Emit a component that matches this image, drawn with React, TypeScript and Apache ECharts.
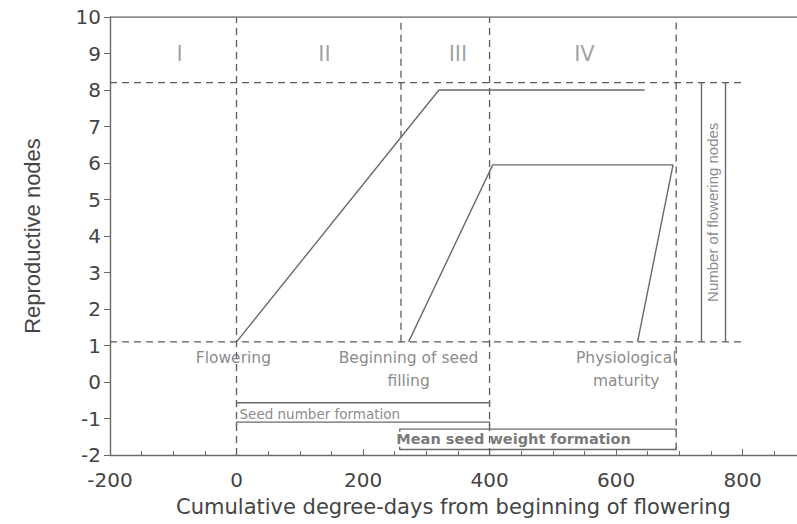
import React, { useEffect, useRef } from "react";
import * as echarts from "echarts";

// ---- data ----
const xMin = -200;
const xMax = 886;
const yMin = -2;
const yMax = 10;

// total reproductive (flowering) nodes
const totalNodesX = [0, 320, 645];
const totalNodesY = [1.1, 8.0, 8.0];

// nodes with filling seeds
const fillNodesX = [272, 405, 690, 634];
const fillNodesY = [1.1, 5.95, 5.95, 1.1];

// reference (dashed) levels
const levelLow = 1.1;
const levelHigh = 8.2;
const levelEndX = 800;

// stage boundaries (x) and their lower ends (y)
const stageX = [0, 260, 400, 695];
const stageBottomY = [-2, 1.1, -2, -1.85];

// phase labels
const phaseNames = ["I", "II", "III", "IV"];
const phaseX = [-90, 139, 350, 550];
const phaseY = 9.0;

// event labels
const eventLines = ["Flowering", "Beginning of seed", "filling", "Physiological", "maturity"];
const eventX = [-5, 272, 272, 616, 616];
const eventY = [0.66, 0.66, 0.03, 0.66, 0.03];

// seed number formation bracket
const seedNumStart = 0;
const seedNumEnd = 400;
const seedNumTop = -0.57;
const seedNumBottom = -1.1;
const seedNumLabelY = -0.87;

// mean seed weight formation box
const seedWtStart = 258;
const seedWtEnd = 695;
const seedWtTop = -1.29;
const seedWtBottom = -1.85;
const seedWtLabelX = 438;
const seedWtLabelY = -1.57;

// number of flowering nodes box
const nodesBoxLeft = 735;
const nodesBoxRight = 773;
const nodesBoxLabelX = 753;
const nodesBoxLabelY = 4.65;

const SOLID = "#6a6a6a";
const DASH = "#5a5a5a";
const TXT = "#6b6b6b";
const H_FONT = "DejaVu Sans";
const V_FONT = "Liberation Sans";

function lineSeries(points: number[][], dashed: boolean, extra: any = {}) {
  return {
    type: "line",
    data: points,
    symbol: "none",
    silent: true,
    lineStyle: {
      color: dashed ? DASH : SOLID,
      width: dashed ? 1.3 : 1.4,
      type: dashed ? [7, 5] : "solid",
    },
    z: dashed ? 2 : 3,
    ...extra,
  };
}

function textSeries(items: { value: number[]; name: string }[], label: any) {
  return {
    type: "scatter",
    data: items,
    symbolSize: 0,
    silent: true,
    z: 5,
    label: {
      show: true,
      formatter: "{b}",
      position: "inside",
      align: "center",
      verticalAlign: "middle",
      color: TXT,
      fontFamily: H_FONT,
      ...label,
    },
  };
}

export default function App() {
  const ref = useRef<HTMLDivElement>(null);

  useEffect(() => {
    if (!ref.current) return;
    const chart = echarts.init(ref.current, undefined, { renderer: "svg" });

    const series: any[] = [];
    // frame top
    series.push(lineSeries([[xMin, yMax], [xMax, yMax]], false, { lineStyle: { color: SOLID, width: 1.4 } }));
    // dashed levels
    series.push(lineSeries([[xMin, levelHigh], [levelEndX, levelHigh]], true));
    series.push(lineSeries([[xMin, levelLow], [levelEndX, levelLow]], true));
    // dashed stage boundaries
    stageX.forEach((x, i) => {
      series.push(lineSeries([[x, stageBottomY[i]], [x, yMax]], true));
    });
    // data lines
    series.push(lineSeries(totalNodesX.map((x, i) => [x, totalNodesY[i]]), false));
    series.push(lineSeries(fillNodesX.map((x, i) => [x, fillNodesY[i]]), false));
    // seed number bracket
    series.push(lineSeries([[seedNumStart, seedNumTop - 0.08], [seedNumStart, seedNumTop], [seedNumEnd, seedNumTop], [seedNumEnd, seedNumTop - 0.08]], false));
    series.push(lineSeries([[seedNumStart, seedNumBottom - 0.1], [seedNumStart, seedNumBottom], [seedNumEnd, seedNumBottom], [seedNumEnd, seedNumBottom - 0.1]], false));
    // mean seed weight box
    series.push(lineSeries([[seedWtStart, seedWtTop - 0.07], [seedWtStart, seedWtTop], [seedWtEnd, seedWtTop], [seedWtEnd, seedWtTop - 0.07]], false));
    series.push(lineSeries([[seedWtStart, seedWtBottom + 0.07], [seedWtStart, seedWtBottom], [seedWtEnd, seedWtBottom], [seedWtEnd, seedWtBottom + 0.07]], false));
    // number of flowering nodes box sides
    series.push(lineSeries([[nodesBoxLeft, levelLow], [nodesBoxLeft, levelHigh]], false));
    series.push(lineSeries([[nodesBoxRight, levelLow], [nodesBoxRight, levelHigh]], false));

    // texts
    series.push(
      textSeries(
        phaseNames.map((n, i) => ({ value: [phaseX[i], phaseY], name: n })),
        { fontSize: 21, color: "#8a8a8a" }
      )
    );
    series.push(
      textSeries(
        eventLines.map((n, i) => ({ value: [eventX[i], eventY[i]], name: n })),
        { fontSize: 15.5 }
      )
    );
    series.push(
      textSeries([{ value: [seedNumStart, seedNumLabelY], name: "Seed number formation" }], {
        position: "right",
        distance: 3,
        align: "left",
        fontSize: 13.5,
      })
    );
    series.push(
      textSeries([{ value: [seedWtLabelX, seedWtLabelY], name: "Mean seed weight formation" }], {
        fontSize: 14.5,
        fontWeight: "bold",
        color: "#555",
      })
    );
    series.push(
      textSeries([{ value: [nodesBoxLabelX, nodesBoxLabelY], name: "Number of flowering nodes" }], {
        fontSize: 15,
        rotate: 90,
        fontFamily: V_FONT,
      })
    );

    chart.setOption({
      animation: false,
      backgroundColor: "#ffffff",
      grid: { left: 110, right: 0, top: 17, bottom: 69, containLabel: false },
      xAxis: {
        type: "value",
        min: xMin,
        max: xMax,
        interval: 200,
        name: "Cumulative degree-days from beginning of flowering",
        nameLocation: "middle",
        nameGap: 41,
        nameTextStyle: { fontFamily: H_FONT, fontSize: 21, color: "#444" },
        axisLine: { onZero: false, lineStyle: { color: SOLID, width: 1.4 } },
        axisTick: { show: true, inside: true, length: 6, lineStyle: { color: SOLID } },
        minorTick: { show: true, splitNumber: 4, length: 4, lineStyle: { color: SOLID } },
        axisLabel: { fontFamily: H_FONT, fontSize: 20, color: "#444", margin: 15, showMaxLabel: false },
        splitLine: { show: false },
      },
      yAxis: {
        type: "value",
        min: yMin,
        max: yMax,
        interval: 1,
        name: "Reproductive nodes",
        nameLocation: "middle",
        nameGap: 67,
        nameTextStyle: { fontFamily: V_FONT, fontSize: 22, color: "#444" },
        axisLine: { onZero: false, lineStyle: { color: SOLID, width: 1.4 } },
        axisTick: { show: true, inside: false, length: 6, lineStyle: { color: SOLID } },
        axisLabel: { fontFamily: H_FONT, fontSize: 20, color: "#444", margin: 9 },
        splitLine: { show: false },
      },
      series,
    });

    return () => chart.dispose();
  }, []);

  return (
    <div
      ref={ref}
      style={{ position: "fixed", left: 0, top: 0, width: 797, height: 524, background: "#fff" }}
    />
  );
}
